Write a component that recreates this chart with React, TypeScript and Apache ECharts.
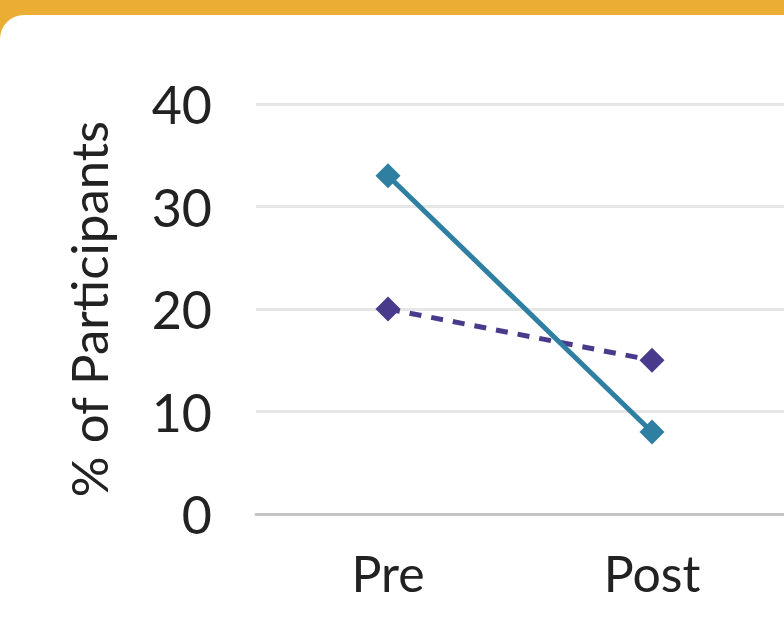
import React, { useEffect, useRef } from "react";
import * as echarts from "echarts";

const categories = ["Pre", "Post"];
const solidSeries = [33, 8];
const dashedSeries = [20, 15];
const yTicks = { min: 0, max: 40, interval: 10 };

export default function App() {
  const ref = useRef<HTMLDivElement>(null);
  useEffect(() => {
    if (!ref.current) return;
    const chart = echarts.init(ref.current, undefined, { renderer: "svg" });
    const font = "Lato, 'Noto Sans', sans-serif";
    chart.setOption({
      animation: false,
      grid: { left: 256, top: 104, right: -4, bottom: 116 },
      xAxis: {
        type: "category",
        data: categories,
        boundaryGap: true,
        axisLine: { show: true, lineStyle: { color: "#c4c4c4", width: 3 } },
        axisTick: { show: false },
        axisLabel: { color: "#222", fontSize: 50, fontFamily: font, margin: 34 },
      },
      yAxis: {
        type: "value",
        min: yTicks.min,
        max: yTicks.max,
        interval: yTicks.interval,
        name: "% of Participants",
        nameLocation: "middle",
        nameGap: 142,
        nameTextStyle: { color: "#222", fontSize: 51, fontFamily: font },
        axisLine: { show: false },
        axisTick: { show: false },
        axisLabel: { color: "#222", fontSize: 52, fontFamily: font, margin: 44 },
        splitLine: { lineStyle: { color: "#e6e6e6", width: 3 } },
      },
      series: [
        {
          type: "line",
          data: solidSeries,
          symbol: "diamond",
          symbolSize: 25,
          itemStyle: { color: "#2F7FA2" },
          lineStyle: { color: "#2F7FA2", width: 5 },
          z: 3,
        },
        {
          type: "line",
          data: dashedSeries,
          symbol: "diamond",
          symbolSize: 25,
          itemStyle: { color: "#4A3A8C" },
          lineStyle: { color: "#4A3A8C", width: 5, type: [12, 10] },
          z: 2,
        },
      ],
    });
    return () => chart.dispose();
  }, []);
  return (
    <div style={{ position: "fixed", left: 0, top: 0, width: 784, height: 630, background: "#EBAD33", overflow: "hidden" }}>
      <div style={{ position: "absolute", left: 0, top: 15, right: 0, bottom: 0, background: "#fff", borderTopLeftRadius: 24 }} />
      <div ref={ref} style={{ position: "absolute", left: 0, top: 0, width: 784, height: 630 }} />
    </div>
  );
}
